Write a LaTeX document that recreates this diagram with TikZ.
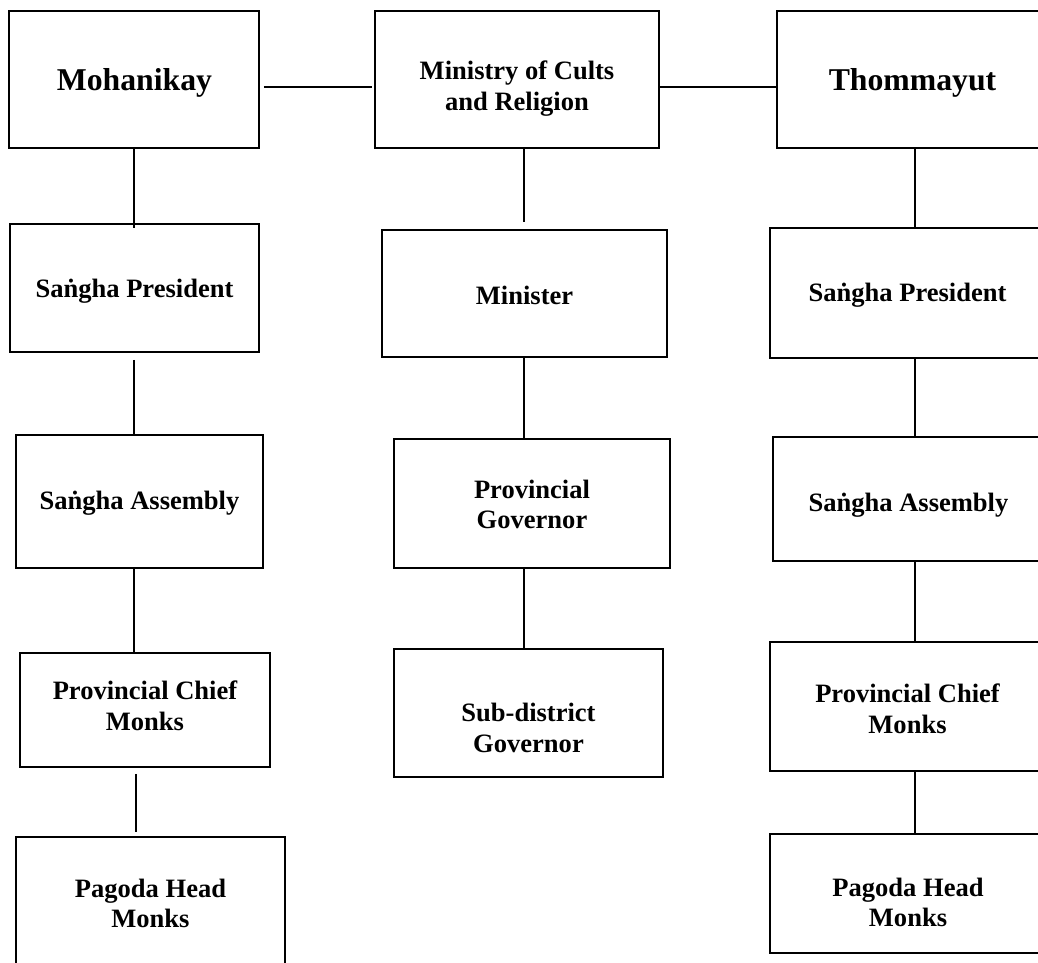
\documentclass[tikz,border=0pt]{standalone}
\usepackage{fontspec}
\setmainfont{Liberation Serif}
\usetikzlibrary{calc}
\def\pxu{0.75pt}
\begin{document}
\begin{tikzpicture}[x=0.75pt, y=-0.75pt,
  box/.style={draw, line width=1.4pt, inner sep=0pt},
  txt/.style={inner sep=0pt, align=center,
    font=\fontsize{19.9}{23}\selectfont\bfseries},
  bigtxt/.style={txt, font=\fontsize{23.8}{27}\selectfont\bfseries},
  link/.style={line width=1.4pt}]
\useasboundingbox (0,0) rectangle (1038,963);
\clip (0,0) rectangle (1038,963);

% column axes for the vertical links and the row of the top links
\coordinate (cl) at (134,0);
\coordinate (cm) at (524,0);
\coordinate (cr) at (915,0);
\coordinate (top) at (0,87);

% top row
\node[box, minimum width=250*\pxu, minimum height=137*\pxu] (mohan) at (134,79.5) {};
\node[box, minimum width=284*\pxu, minimum height=137*\pxu] (minis) at (517,79.5) {};
\node[box, minimum width=270*\pxu, minimum height=137*\pxu] (thom) at (912,79.5) {};

% left column
\node[box, minimum width=249*\pxu, minimum height=128*\pxu] (spl) at (134.5,288) {};
\node[box, minimum width=247*\pxu, minimum height=133*\pxu] (sal) at (139.5,501.5) {};
\node[box, minimum width=250*\pxu, minimum height=114*\pxu] (pcml) at (145,710) {};
\node[box, minimum width=269*\pxu, minimum height=133*\pxu] (phml) at (150.5,903.5) {};

% middle column
\node[box, minimum width=285*\pxu, minimum height=127*\pxu] (mini) at (524.5,293.5) {};
\node[box, minimum width=276*\pxu, minimum height=129*\pxu] (pgov) at (532,503.5) {};
\node[box, minimum width=269*\pxu, minimum height=128*\pxu] (sgov) at (528.5,713) {};

% right column
\node[box, minimum width=275*\pxu, minimum height=130*\pxu] (spr) at (907.5,293) {};
\node[box, minimum width=271*\pxu, minimum height=124*\pxu] (sar) at (908.5,499) {};
\node[box, minimum width=275*\pxu, minimum height=129*\pxu] (pcmr) at (907.5,706.5) {};
\node[box, minimum width=276*\pxu, minimum height=119*\pxu] (phmr) at (908,893.5) {};

% box captions
\node[bigtxt] (mohan-t) at ($(mohan.center)+(0.5,3)$) {Mohanikay};
\node[txt] (minis-t) at ($(minis.center)+(0,9)$) {Ministry of Cults\\and Religion};
\node[bigtxt] (thom-t) at ($(thom.center)+(0.5,3)$) {Thommayut};
\node[txt] (spl-t) at ($(spl.center)+(0,3)$) {Saṅgha President};
\node[txt] (sal-t) at ($(sal.center)+(0,2)$) {Saṅgha Assembly};
\node[txt] (pcml-t) at ($(pcml.center)+(0,-4)$) {Provincial Chief\\Monks};
\node[txt] (phml-t) at ($(phml.center)+(0,0)$) {Pagoda Head\\Monks};
\node[txt] (mini-t) at ($(mini.center)+(0,2)$) {Minister};
\node[txt] (pgov-t) at ($(pgov.center)+(0,1)$) {Provincial\\Governor};
\node[txt] (sgov-t) at ($(sgov.center)+(0,15)$) {Sub-district\\Governor};
\node[txt] (spr-t) at ($(spr.center)+(0,2)$) {Saṅgha President};
\node[txt] (sar-t) at ($(sar.center)+(0,6)$) {Saṅgha Assembly};
\node[txt] (pcmr-t) at ($(pcmr.center)+(0,2)$) {Provincial Chief\\Monks};
\node[txt] (phmr-t) at ($(phmr.center)+(0,9)$) {Pagoda Head\\Monks};

% horizontal links
\draw[link, shorten <=4*\pxu, shorten >=2*\pxu] (mohan.east |- top) -- (minis.west |- top);
\draw[link] (minis.east |- top) -- (thom.west |- top);

% left chain
\draw[link] (mohan.south -| cl) -- ([yshift=-5*\pxu]spl.north -| cl);
\draw[link, shorten <=7*\pxu] (spl.south -| cl) -- (sal.north -| cl);
\draw[link] (sal.south -| cl) -- (pcml.north -| cl);
\draw[link, shorten <=6*\pxu, shorten >=4*\pxu] ([xshift=2*\pxu]pcml.south -| cl) -- ([xshift=2*\pxu]phml.north -| cl);

% middle chain
\draw[link, shorten >=7*\pxu] (minis.south -| cm) -- (mini.north -| cm);
\draw[link] (mini.south -| cm) -- (pgov.north -| cm);
\draw[link] (pgov.south -| cm) -- (sgov.north -| cm);

% right chain
\draw[link] (thom.south -| cr) -- (spr.north -| cr);
\draw[link] (spr.south -| cr) -- (sar.north -| cr);
\draw[link] (sar.south -| cr) -- (pcmr.north -| cr);
\draw[link] (pcmr.south -| cr) -- (phmr.north -| cr);
\end{tikzpicture}
\end{document}
